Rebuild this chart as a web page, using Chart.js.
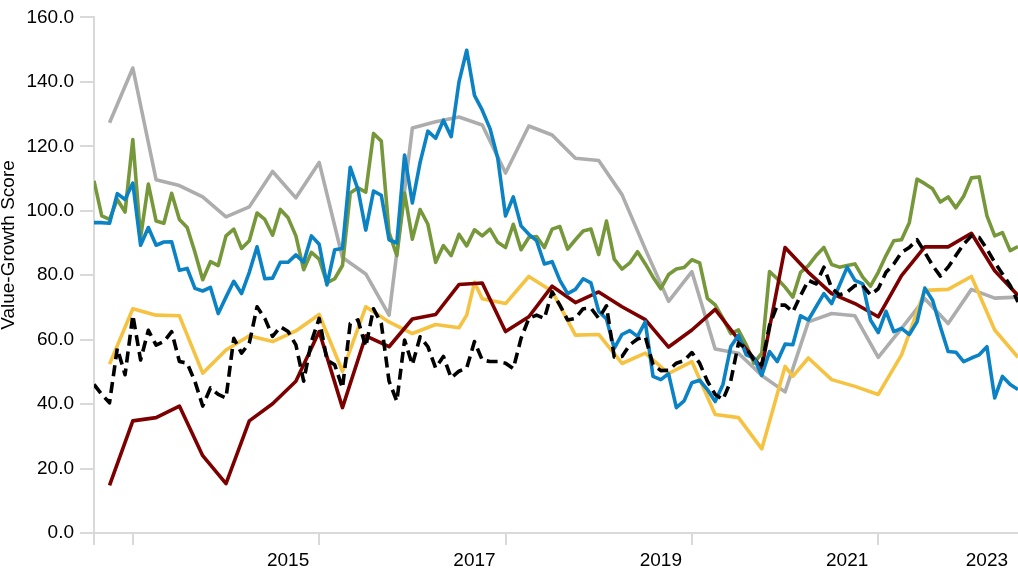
<!DOCTYPE html>
<html>
<head>
<meta charset="utf-8">
<script src="https://cdn.jsdelivr.net/npm/chart.js@4/dist/chart.umd.min.js"></script>
<style>
  html, body { margin: 0; padding: 0; background: #ffffff; }
  #wrap { position: relative; width: 1018px; height: 571px; }
</style>
</head>
<body>
<div id="wrap"><canvas id="c"></canvas></div>
<script>
// ---- Data ----
// Monthly observations, index 0..119
const monthIdx = Array.from({ length: 120 }, (_, i) => i);

// Quarterly observation positions (month index)
const quarterIdx = [2, 5, 8, 11, 14, 17, 20, 23, 26, 29, 32, 35, 38, 41, 44, 47, 50, 53, 56, 59,
  62, 65, 68, 71, 74, 77, 80, 83, 86, 89, 92, 95, 98, 101, 104, 107, 110, 113, 116, 119];

const yellowIdx = [2, 5, 8, 11, 14, 17, 20, 23, 26, 29, 32, 35, 38, 41, 44, 47, 48, 49, 50, 53,
  56, 59, 62, 65, 68, 71, 74, 77, 80, 83, 86, 89, 90, 92, 95, 98, 101, 104, 107, 110, 113, 116, 119];

const greenSeries = [109.3, 98.4, 97.3, 103.5, 99.6, 122.1, 91.7, 108.3, 96.8, 96.1,
  105.4, 97.3, 94.8, 87.1, 78.6, 84.2, 83.0, 92.2, 94.3, 88.3,
  90.7, 99.3, 97.3, 92.4, 100.4, 97.8, 92.2, 81.7, 87.1, 85.0,
  77.6, 78.9, 83.0, 105.5, 107.1, 105.8, 124.0, 121.6, 93.2, 86.1,
  105.5, 91.2, 100.4, 95.8, 84.0, 89.2, 86.1, 92.7, 89.1, 94.1,
  92.2, 94.3, 90.2, 88.6, 95.8, 87.9, 91.7, 92.0, 88.6, 94.3,
  95.1, 88.1, 91.0, 93.7, 94.3, 86.4, 96.8, 85.0, 81.9, 83.8,
  87.3, 83.5, 79.4, 75.8, 80.2, 81.9, 82.4, 84.8, 83.8, 72.8,
  70.8, 66.6, 61.9, 63.0, 58.4, 52.7, 55.8, 81.1, 78.9, 76.3,
  73.2, 80.9, 83.0, 86.1, 88.6, 83.3, 82.5, 83.0, 83.5, 79.4,
  76.6, 80.9, 86.1, 90.7, 91.0, 96.3, 109.8, 108.4, 106.8, 102.7,
  104.3, 100.9, 104.5, 110.2, 110.5, 98.4, 92.2, 93.2, 87.6, 88.9];

const blueSeries = [96.3, 96.3, 96.1, 105.3, 103.5, 108.6, 89.3, 94.8, 89.3, 90.3,
  90.4, 81.5, 82.1, 75.9, 75.1, 76.2, 68.1, 73.2, 78.1, 74.3,
  80.9, 88.8, 78.9, 79.1, 84.0, 84.0, 86.3, 84.0, 92.2, 89.6,
  77.0, 87.9, 88.3, 113.5, 106.6, 94.0, 106.1, 104.8, 91.0, 90.0,
  117.3, 102.4, 115.0, 124.7, 122.5, 128.1, 123.0, 139.9, 149.8, 135.8,
  131.2, 125.5, 116.3, 98.4, 104.3, 95.3, 92.7, 90.7, 83.5, 84.2,
  78.4, 74.3, 75.6, 78.9, 77.6, 68.8, 66.4, 57.3, 61.6, 62.8,
  61.0, 65.5, 48.6, 47.6, 49.4, 38.9, 41.0, 46.6, 47.4, 44.5,
  40.8, 46.1, 57.8, 61.4, 55.3, 54.3, 48.9, 56.3, 53.2, 58.6,
  58.4, 67.4, 66.1, 70.2, 74.3, 71.2, 76.8, 82.5, 78.4, 77.3,
  66.1, 62.2, 68.8, 62.5, 63.5, 61.6, 65.5, 76.0, 72.2, 64.0,
  56.3, 56.1, 53.2, 54.3, 55.3, 57.8, 41.9, 48.6, 46.1, 44.5];

const dashedSeries = [46.1, 43.0, 40.4, 57.3, 49.1, 67.6, 53.7, 62.9, 58.3, 59.4,
  62.5, 53.2, 52.7, 47.0, 39.4, 45.0, 43.0, 41.9, 60.4, 55.8,
  58.9, 70.2, 66.6, 61.0, 64.0, 62.5, 58.4, 47.1, 59.4, 66.6,
  53.7, 52.2, 45.0, 65.0, 66.1, 57.8, 69.6, 65.0, 47.1, 40.9,
  59.9, 52.2, 60.9, 57.8, 51.2, 54.8, 48.1, 50.2, 51.2, 59.4,
  53.7, 53.2, 53.2, 52.7, 51.0, 60.4, 66.6, 67.6, 66.6, 74.8,
  70.7, 66.1, 66.6, 69.6, 69.8, 66.6, 70.5, 54.6, 54.8, 58.4,
  60.2, 60.9, 52.2, 50.4, 50.5, 52.7, 53.5, 56.0, 52.7, 47.1,
  43.0, 41.4, 47.1, 58.9, 57.3, 53.7, 52.2, 64.5, 70.7, 70.7,
  68.6, 73.7, 78.4, 77.3, 82.5, 76.0, 73.9, 74.8, 76.8, 76.8,
  73.9, 75.8, 80.9, 83.5, 87.1, 88.6, 91.0, 87.1, 83.0, 79.7,
  82.5, 86.1, 89.6, 92.2, 91.7, 88.1, 84.0, 80.4, 76.8, 71.7];

const graySeries = [127.3, 144.3, 109.6, 107.8, 104.3, 98.1, 101.2, 112.2, 104.0, 115.0,
  85.5, 80.4, 67.6, 125.7, 127.6, 129.1, 126.6, 111.7, 126.3, 123.5,
  116.3, 115.6, 105.0, 88.1, 71.9, 81.1, 57.1, 55.8, 48.9, 43.8,
  65.5, 68.1, 67.4, 54.5, 63.5, 72.7, 65.0, 75.6, 72.9, 73.2];

const redSeries = [14.8, 34.8, 35.8, 39.4, 24.0, 15.3, 34.8, 40.1, 47.1, 62.5,
  38.9, 61.2, 57.8, 66.4, 67.8, 77.1, 77.6, 62.5, 67.1, 76.6,
  71.5, 74.8, 70.2, 66.2, 57.7, 63.0, 69.4, 60.0, 51.2, 88.6,
  80.9, 74.3, 71.2, 67.1, 79.9, 88.8, 88.8, 93.0, 81.4, 73.7];

const yellowSeries = [52.4, 69.6, 67.6, 67.4, 49.6, 56.8, 61.2, 59.4, 62.7, 67.8,
  50.2, 70.2, 65.5, 61.9, 64.7, 63.7, 67.6, 77.8, 72.7, 71.2,
  79.6, 75.0, 61.4, 61.6, 52.6, 55.8, 49.5, 53.2, 36.8, 35.8,
  26.1, 51.7, 48.6, 54.3, 47.6, 45.5, 43.0, 55.3, 75.3, 75.6,
  79.6, 63.0, 54.5];

// Axis ticks
const yTicks = [0, 20, 40, 60, 80, 100, 120, 140, 160];
const xTickMarks = [0, 5, 29, 53, 77, 101];
const xYearLabels = ['2015', '2017', '2019', '2021', '2023'];
const xYearLabelPos = [25, 49, 73, 97, 115];

const FONT = "'Liberation Sans', Arial, Helvetica, sans-serif";
const AXIS_GRAY = '#d9d9d9';

function pts(xs, ys) { return xs.map((x, i) => ({ x: x, y: ys[i] })); }

const titlePlugin = {
  id: 'yTitle',
  afterDraw(chart) {
    const ctx = chart.ctx;
    ctx.save();
    ctx.translate(9, 245);
    ctx.rotate(-Math.PI / 2);
    ctx.font = '19px ' + FONT;
    ctx.fillStyle = '#000';
    ctx.textAlign = 'center';
    ctx.textBaseline = 'middle';
    ctx.fillText('Value-Growth Score', 0, 0);
    ctx.restore();
  }
};

const base = { pointRadius: 0, pointHoverRadius: 0, borderWidth: 3.6, tension: 0, fill: false, borderJoinStyle: 'round', borderCapStyle: 'butt' };

new Chart(document.getElementById('c'), {
  type: 'line',
  data: {
    datasets: [
      Object.assign({ label: 'Series F', data: pts(monthIdx, dashedSeries), borderColor: '#000000', borderDash: [11, 6], order: 1 }, base),
      Object.assign({ label: 'Series B', data: pts(monthIdx, blueSeries), borderColor: '#0a82c4', order: 2 }, base),
      Object.assign({ label: 'Series D', data: pts(quarterIdx, redSeries), borderColor: '#7d0000', order: 3 }, base),
      Object.assign({ label: 'Series E', data: pts(yellowIdx, yellowSeries), borderColor: '#f6c242', order: 4 }, base),
      Object.assign({ label: 'Series A', data: pts(monthIdx, greenSeries), borderColor: '#76983a', order: 5 }, base),
      Object.assign({ label: 'Series C', data: pts(quarterIdx, graySeries), borderColor: '#adadad', order: 6 }, base)
    ]
  },
  options: {
    responsive: true,
    maintainAspectRatio: false,
    animation: false,
    events: [],
    layout: { padding: { top: 13, left: 0, right: 0, bottom: 0 } },
    plugins: { legend: { display: false }, tooltip: { enabled: false }, title: { display: false } },
    scales: {
      x: {
        type: 'linear',
        min: 0,
        max: 119,
        afterBuildTicks(axis) {
          const all = xTickMarks.concat(xYearLabelPos).sort((a, b) => a - b);
          axis.ticks = all.map(v => ({ value: v }));
        },
        afterFit(scale) { scale.height = 38; },
        grid: {
          drawOnChartArea: false,
          drawTicks: true,
          tickLength: 12,
          lineWidth: 2,
          tickWidth: 2,
          tickColor: (ctx) => (ctx.tick && xTickMarks.includes(ctx.tick.value)) ? AXIS_GRAY : 'rgba(0,0,0,0)',
          color: AXIS_GRAY
        },
        border: { display: true, color: AXIS_GRAY, width: 2 },
        ticks: {
          autoSkip: false,
          maxRotation: 0,
          padding: 4,
          color: '#000',
          font: { family: FONT, size: 19 },
          callback(value) {
            const k = xYearLabelPos.indexOf(value);
            return k >= 0 ? xYearLabels[k] : '';
          }
        }
      },
      y: {
        min: 0,
        max: 160,
        afterBuildTicks(axis) { axis.ticks = yTicks.map(v => ({ value: v })); },
        afterFit(scale) { scale.width = 94; },
        grid: {
          drawOnChartArea: false,
          drawTicks: true,
          tickLength: 14,
          lineWidth: 2,
          tickWidth: 2,
          tickColor: AXIS_GRAY,
          color: AXIS_GRAY
        },
        border: { display: true, color: AXIS_GRAY, width: 2 },
        ticks: {
          padding: 6,
          color: '#000',
          font: { family: FONT, size: 19 },
          callback(value) { return Number(value).toFixed(1); }
        }
      }
    }
  },
  plugins: [titlePlugin]
});
</script>
</body>
</html>
